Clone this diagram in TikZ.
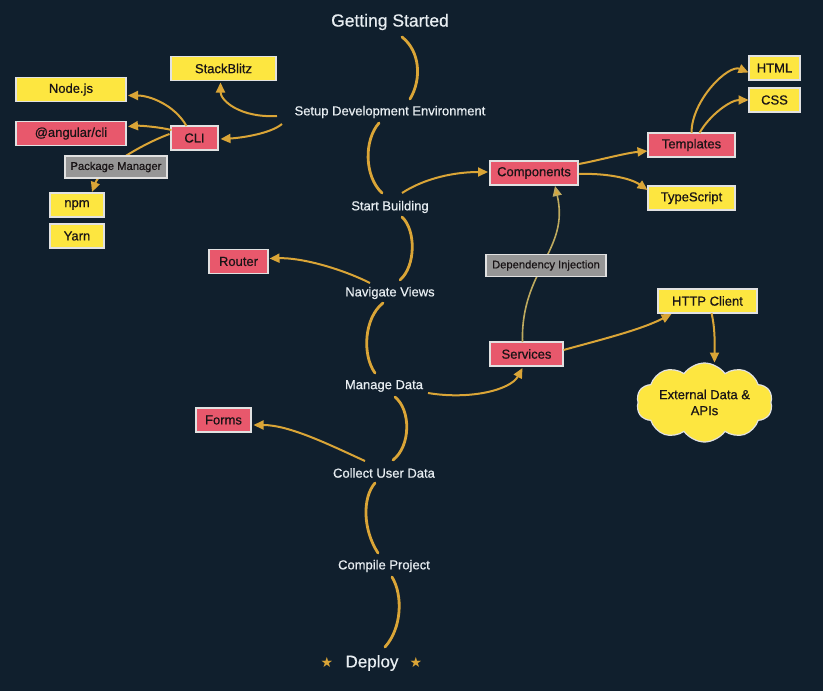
\documentclass[tikz,border=0pt]{standalone}
\usepackage{fontspec}
\setmainfont{Liberation Sans}
\newfontfamily\medfont[FakeBold=0.6]{Liberation Sans}
\newfontfamily\dejavu{DejaVu Sans}
\usetikzlibrary{shapes.symbols,arrows.meta,calc}
\definecolor{bg}{RGB}{16,31,45}
\definecolor{gold}{RGB}{218,165,55}
\definecolor{dimgold}{RGB}{190,170,95}
\definecolor{ybox}{RGB}{253,230,64}
\definecolor{pbox}{RGB}{232,88,108}
\definecolor{gbox}{RGB}{150,150,150}
\definecolor{ltxt}{RGB}{232,238,242}
\definecolor{dtxt}{RGB}{25,20,22}
\definecolor{edgec}{RGB}{225,225,225}
\begin{document}
\begin{tikzpicture}[x=1pt,y=-1pt,
 phase/.style={text=ltxt,font=\medfont\fontsize{13}{15}\selectfont,inner sep=1pt},
 boxbase/.style={draw=edgec,line width=1.2pt,minimum height=24pt,text=dtxt,font=\medfont\fontsize{13}{15}\selectfont,inner sep=2pt},
 ybx/.style={boxbase,fill=ybox},
 pbx/.style={boxbase,fill=pbox},
 gbx/.style={boxbase,fill=gbox,font=\medfont\fontsize{11.2}{13}\selectfont,minimum height=22pt},
 spine/.style={draw=gold,line width=2.8pt,line cap=round},
 arr/.style={draw=gold,line width=2pt,-{Triangle[length=10pt,width=9pt]}},
]
\fill[bg] (0,0) rectangle (823,691);

% spine labels
\node[phase,font=\medfont\fontsize{17.5}{20}\selectfont] (gs) at (390,22) {Getting Started};
\node[phase] (sde) at (390,112) {Setup Development Environment};
\node[phase] (sb) at (390,207) {Start Building};
\node[phase] (nv) at (390,293) {Navigate Views};
\node[phase] (md) at (384,386) {Manage Data};
\node[phase] (cud) at (384,473) {Collect User Data};
\node[phase] (cp) at (384,566) {Compile Project};
\node[phase,font=\medfont\fontsize{17}{20}\selectfont] (dp) at (372,663) {Deploy};
\node[text=gold,font=\dejavu\fontsize{14}{15}\selectfont] (st1) at (327,662) {★};
\node[text=gold,font=\dejavu\fontsize{14}{15}\selectfont] (st2) at (416,662) {★};

% boxes
\node[ybx,minimum width=105pt] (stackblitz) at (223.5,68.5) {StackBlitz};
\node[ybx,minimum width=110pt] (nodejs) at (71,89.5) {Node.js};
\node[pbx,minimum width=110pt] (angular) at (71,133.5) {@angular/cli};
\node[pbx,minimum width=47pt] (cli) at (194.5,138) {CLI};
\node[ybx,minimum width=54pt] (npm) at (77,205) {npm};
\node[ybx,minimum width=54pt] (yarn) at (77,236) {Yarn};
\node[pbx,minimum width=59pt] (router) at (238.5,261.5) {Router};
\node[pbx,minimum width=55pt] (forms) at (223.5,420) {Forms};
\node[pbx,minimum width=88pt] (comp) at (534,173) {Components};
\node[pbx,minimum width=87pt] (templ) at (691.5,145) {Templates};
\node[ybx,minimum width=87pt] (ts) at (691.5,198) {TypeScript};
\node[ybx,minimum width=51pt] (html) at (774.5,68) {HTML};
\node[ybx,minimum width=51pt] (css) at (774.5,100) {CSS};
\node[pbx,minimum width=73pt] (serv) at (526.5,354) {Services};
\node[ybx,minimum width=99pt] (http) at (707.5,301) {HTTP Client};
\node[cloud,cloud puffs=10,cloud puff arc=110,aspect=2.1,fill=ybox,draw=edgec,line width=1.2pt,
      minimum width=136pt,minimum height=62pt,text=dtxt,align=center,inner sep=0pt,
      font=\medfont\fontsize{13}{16}\selectfont] (cloud) at (704.5,402.5) {External Data \&\\APIs};

% spine curves
\draw[spine] ($(gs)+(12,15)$) .. controls ($(gs)+(30,29)$) and ($(sde)+(32,-33)$) .. ($(sde)+(20,-13)$);
\draw[spine] ($(sde)+(-11,11)$) .. controls ($(sde)+(-26,28)$) and ($(sb)+(-26,-31)$) .. ($(sb)+(-8,-14)$);
\draw[spine] ($(sb)+(12,10)$) .. controls ($(sb)+(26,23)$) and ($(nv)+(26,-27)$) .. ($(nv)+(10,-13)$);
\draw[spine] ($(nv)+(-7,10)$) .. controls ($(nv)+(-26,25)$) and ($(md)+(-22,-31)$) .. ($(md)+(-9,-13)$);
\draw[spine] ($(md)+(11,11)$) .. controls ($(md)+(27,24)$) and ($(cud)+(27,-27)$) .. ($(cud)+(9,-13)$);
\draw[spine] ($(cud)+(-9,10)$) .. controls ($(cud)+(-22,25)$) and ($(cp)+(-21,-36)$) .. ($(cp)+(-6,-13)$);
\draw[spine] ($(cp)+(8,11)$) .. controls ($(cp)+(19,29)$) and ($(dp)+(30,-35)$) .. ($(dp)+(13,-16)$);

% branch arrows
\draw[arr] ($(sde)+(-113,4)$) .. controls ($(sde)+(-150,6)$) and ($(stackblitz)+(-3,32)$) .. ($(stackblitz)+(-3,14)$);
\draw[arr] ($(sde)+(-108,12)$) .. controls ($(sde)+(-120,22)$) and ($(cli)+(45,0)$) .. ($(cli)+(26,1)$);
\draw[arr] ($(cli)+(-8,-12)$) .. controls ($(cli)+(-20,-33)$) and ($(nodejs)+(79,6)$) .. ($(nodejs)+(57,6)$);
\draw[arr] ($(cli)+(-23,-8)$) .. controls ($(cli)+(-35,-11)$) and ($(angular)+(69,-8)$) .. ($(angular)+(57,-7)$);
\draw[arr] ($(cli)+(-25,-4)$) .. controls ($(cli)+(-55,7)$) and ($(npm)+(23,-35)$) .. ($(npm)+(15,-13)$);
\draw[arr] ($(sb)+(12,-14)$) .. controls ($(sb)+(35,-29)$) and ($(comp)+(-79,-1)$) .. ($(comp)+(-46,-1)$);
\draw[arr] ($(comp)+(45,-9)$) .. controls ($(comp)+(66,-13)$) and ($(templ)+(-66,8)$) .. ($(templ)+(-44,6)$);
\draw[arr] ($(comp)+(45,1)$) .. controls ($(comp)+(71,0)$) and ($(ts)+(-61,-20)$) .. ($(ts)+(-44,-8)$);
\draw[arr] ($(templ)+(0,-12)$) .. controls ($(templ)+(0,-45)$) and ($(html)+(-46,-4)$) .. ($(html)+(-26,4.5)$);
\draw[arr] ($(templ)+(8,-12)$) .. controls ($(templ)+(18,-30)$) and ($(css)+(-44,0)$) .. ($(css)+(-26,0)$);
\draw[arr] ($(nv)+(-20,-10)$) .. controls ($(nv)+(-50,-25)$) and ($(router)+(62,-4)$) .. ($(router)+(31,-3)$);
\draw[arr] ($(md)+(44,7)$) .. controls ($(md)+(86,14)$) and ($(serv)+(-16,36)$) .. ($(serv)+(-4,14)$);
\draw[draw=dimgold,line width=1.6pt,-{Triangle[length=10pt,width=9pt,fill=gold]}] ($(serv)+(-4,-12)$) .. controls ($(serv)+(-6,-84)$) and ($(comp)+(36,77)$) .. ($(comp)+(21,13)$);
\draw[arr] ($(serv)+(37,-4)$) .. controls ($(serv)+(73,-14)$) and ($(http)+(-67,29)$) .. ($(http)+(-36,13)$);
\draw[arr] ($(http)+(4,12)$) .. controls ($(http)+(8,29)$) and ($(cloud)+(10,-57)$) .. ($(cloud)+(10,-40)$);
\draw[arr] ($(cud)+(-19,-12)$) .. controls ($(cud)+(-54,-28)$) and ($(forms)+(66,5)$) .. ($(forms)+(30,5)$);

% labels sitting on edges
\node[gbx,minimum width=102pt] (pm) at (116,167) {Package Manager};
\node[gbx,minimum width=120pt] (di) at (546,265.5) {Dependency Injection};
\end{tikzpicture}
\end{document}
